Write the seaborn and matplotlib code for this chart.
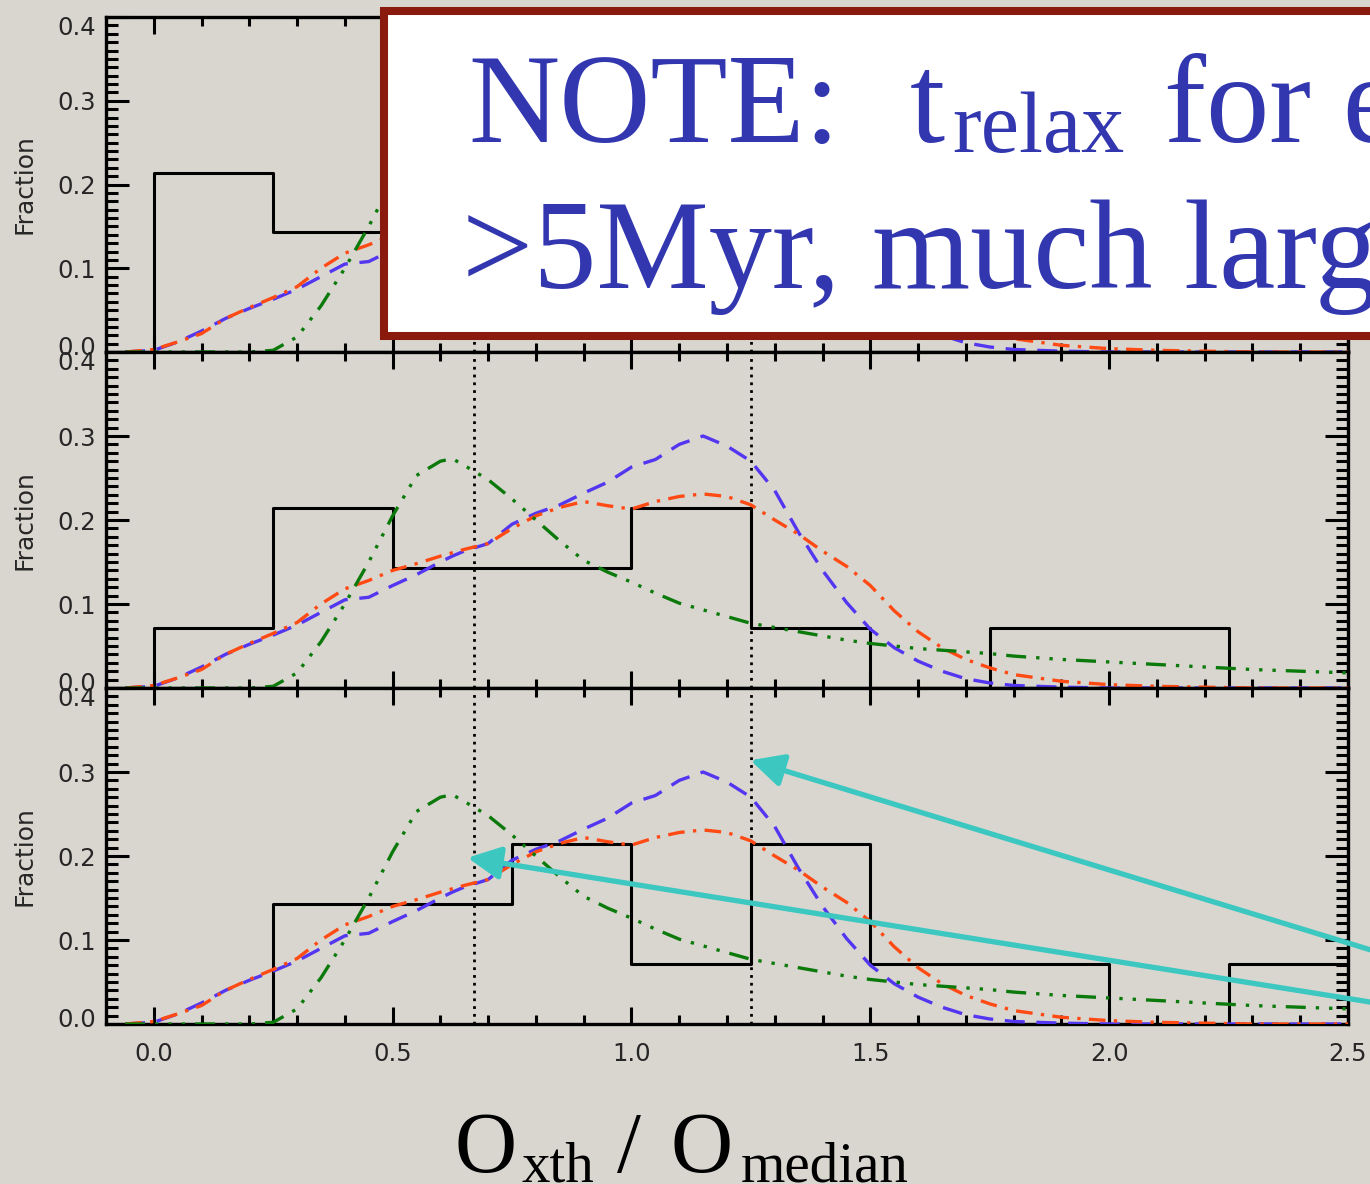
import matplotlib
matplotlib.use("Agg")
import matplotlib.pyplot as plt
import matplotlib.transforms as mtransforms
from matplotlib.patches import Rectangle
from matplotlib.ticker import MultipleLocator
import seaborn as sns

# ---------------- data ----------------
bin_edges = [0.0, 0.25, 0.5, 0.75, 1.0, 1.25, 1.5, 1.75, 2.0, 2.25, 2.5]
counts_top = [3, 2, 2, 1, 1, 1, 1, 1, 1, 1]
counts_mid = [1, 3, 2, 2, 3, 1, 0, 1, 1, 0]
counts_bot = [0, 2, 2, 3, 1, 3, 1, 1, 0, 1]
n_clusters = 14

model_x = [-0.06, 0.0, 0.05, 0.1, 0.15, 0.2, 0.25, 0.3, 0.35, 0.4, 0.45, 0.5,
           0.55, 0.6, 0.625, 0.65, 0.7, 0.75, 0.8, 0.85, 0.9, 0.95, 1.0, 1.05,
           1.1, 1.15, 1.2, 1.25, 1.3, 1.35, 1.4, 1.45, 1.5, 1.55, 1.6, 1.65,
           1.7, 1.75, 1.8, 1.9, 2.0, 2.1, 2.2, 2.3, 2.4, 2.5]
model_dashed = [0.0, 0.002, 0.012, 0.025, 0.040, 0.052, 0.063, 0.075, 0.090, 0.105,
                0.108, 0.122, 0.135, 0.150, 0.157, 0.163, 0.172, 0.195, 0.208, 0.218,
                0.232, 0.245, 0.263, 0.272, 0.290, 0.300, 0.288, 0.270, 0.235, 0.185,
                0.140, 0.102, 0.070, 0.048, 0.032, 0.020, 0.011, 0.006, 0.003, 0.001,
                0.0, 0.0, 0.0, 0.0, 0.0, 0.0]
model_dashdot = [0.0, 0.003, 0.012, 0.022, 0.040, 0.053, 0.065, 0.078, 0.100, 0.118,
                 0.128, 0.140, 0.148, 0.157, 0.161, 0.165, 0.172, 0.190, 0.205, 0.215,
                 0.222, 0.217, 0.213, 0.222, 0.228, 0.231, 0.228, 0.218, 0.200, 0.183,
                 0.163, 0.145, 0.122, 0.092, 0.067, 0.048, 0.034, 0.024, 0.016, 0.008,
                 0.004, 0.002, 0.001, 0.0, 0.0, 0.0]
model_dash3dot = [0.0, 0.0, 0.0, 0.0, 0.0, 0.0, 0.002, 0.018, 0.055, 0.100,
                  0.150, 0.205, 0.253, 0.270, 0.273, 0.265, 0.248, 0.225, 0.200, 0.175,
                  0.152, 0.138, 0.126, 0.113, 0.101, 0.093, 0.085, 0.077, 0.072, 0.067,
                  0.062, 0.057, 0.053, 0.050, 0.047, 0.045, 0.043, 0.041, 0.038, 0.034,
                  0.031, 0.028, 0.025, 0.022, 0.020, 0.018]

ref_lines = [0.67, 1.25]

# ---------------- style ----------------
BG = "#D9D6D0"
BLUE = "#5236F0"
RED = "#FF4A14"
GREEN = "#0B7A0B"
CYAN = "#3CC8C0"
NOTE_BLUE = "#3237B0"
NOTE_RED = "#8B1A0E"

sns.set_style("ticks")
plt.rcParams["font.family"] = ["DejaVu Sans"]

W, H = 1370, 1184
fig = plt.figure(figsize=(W / 100, H / 100), dpi=100, facecolor=BG)

left, right = 106 / W, 1348 / W
panel_px = [(17, 352), (352, 688), (688, 1024)]
axes = []
for top_px, bot_px in panel_px:
    ax = fig.add_axes([left, 1 - bot_px / H, right - left, (bot_px - top_px) / H])
    axes.append(ax)


def step_points(counts):
    frac = [c / n_clusters for c in counts]
    xs = [bin_edges[0]] + bin_edges[:-1] + [bin_edges[-1], bin_edges[-1]]
    ys = [0.0] + frac + [frac[-1], 0.0]
    return xs, ys


for ax, counts, show_x in zip(axes, [counts_top, counts_mid, counts_bot], [False, False, True]):
    ax.set_facecolor(BG)
    for xv in ref_lines:
        ax.axvline(xv, color="black", lw=2.0, ls=(0, (1, 1.8)), zorder=1)

    xs, ys = step_points(counts)
    sns.lineplot(x=xs, y=ys, sort=False, estimator=None, drawstyle="steps-post",
                 color="black", lw=2.2, ax=ax, zorder=2)

    sns.lineplot(x=model_x, y=model_dashed, sort=False, estimator=None, color=BLUE,
                 lw=2.4, linestyle=(0, (6, 3.5)), ax=ax, zorder=3)
    sns.lineplot(x=model_x, y=model_dashdot, sort=False, estimator=None, color=RED,
                 lw=2.4, linestyle=(0, (5, 2.5, 1, 2.5)), ax=ax, zorder=3)
    sns.lineplot(x=model_x, y=model_dash3dot, sort=False, estimator=None, color=GREEN,
                 lw=2.4, linestyle=(0, (6, 3, 1, 3, 1, 3, 1, 3)), ax=ax, zorder=3)

    ax.set_xlim(-0.1, 2.5)
    ax.set_ylim(0, 0.4)
    ax.xaxis.set_major_locator(MultipleLocator(0.5))
    ax.xaxis.set_minor_locator(MultipleLocator(0.1))
    ax.set_yticks([0.0, 0.1, 0.2, 0.3, 0.4])
    ax.set_yticklabels(["0.0", "0.1", "0.2", "0.3", "0.4"])
    ax.yaxis.set_minor_locator(MultipleLocator(0.01))
    if show_x:
        ax.set_xticks([0.0, 0.5, 1.0, 1.5, 2.0, 2.5])
        ax.set_xticklabels(["0.0", "0.5", "1.0", "1.5", "2.0", "2.5"])

    ax.tick_params(which="both", direction="in", top=True, right=True,
                   width=2.2, color="black")
    ax.tick_params(axis="x", which="major", length=12)
    ax.tick_params(axis="x", which="minor", length=6.5)
    ax.tick_params(axis="y", which="major", length=16.5)
    ax.tick_params(axis="y", which="minor", length=8.5)
    ax.tick_params(axis="y", labelsize=17.5, pad=7)
    ax.tick_params(axis="x", labelsize=17.5, pad=13, labelbottom=show_x)
    for sp in ax.spines.values():
        sp.set_linewidth(2.4)
        sp.set_color("black")
        sp.set_zorder(2.5)

    ax.set_xlabel("")
    ax.set_ylabel("Fraction", fontsize=18)
    ax.yaxis.set_label_coords(-0.0556, 0.5)

    # end labels sit just inside the axis range
    yt = ax.yaxis.get_major_ticks()
    up = mtransforms.ScaledTranslation(0, 5 / 72, fig.dpi_scale_trans)
    down = mtransforms.ScaledTranslation(0, -6 / 72, fig.dpi_scale_trans)
    yt[0].label1.set_transform(yt[0].label1.get_transform() + up)
    yt[-1].label1.set_transform(yt[-1].label1.get_transform() + down)

# ---------------- arrows in the lower panel ----------------
arrow_kw = dict(arrowstyle="-|>,head_length=1.0,head_width=0.5", color=CYAN,
                lw=3.8, shrinkA=0, shrinkB=0, mutation_scale=20)
axes[2].annotate("", xy=(1.249, 0.314), xycoords="data",
                 xytext=(1420, H - 965), textcoords="figure pixels",
                 arrowprops=arrow_kw, annotation_clip=False, zorder=6)
axes[2].annotate("", xy=(0.657, 0.198), xycoords="data",
                 xytext=(1420, H - 1010), textcoords="figure pixels",
                 arrowprops=arrow_kw, annotation_clip=False, zorder=6)

# ---------------- note box ----------------
fig.add_artist(Rectangle((384 / W, 1 - 336 / H), 1.2, (336 - 11) / H,
                         transform=fig.transFigure, facecolor="white",
                         edgecolor=NOTE_RED, lw=5.8, zorder=5))

serif = ["Liberation Serif", "DejaVu Serif"]


def ftext(xp, base_py, s, size, color):
    fig.text(xp / W, 1 - base_py / H, s, fontsize=size, family=serif, color=color,
             ha="left", va="baseline", zorder=6)


ftext(468, 142, "NOTE:", 91, NOTE_BLUE)
ftext(910, 142, "t", 91, NOTE_BLUE)
ftext(952, 152, "relax", 62, NOTE_BLUE)
ftext(1164, 142, "for each", 91, NOTE_BLUE)
ftext(462, 288, ">5Myr, much larger", 91, NOTE_BLUE)

# ---------------- x-axis title ----------------
ftext(454, 1172, "O", 62, "black")
ftext(522, 1181, "xth", 41, "black")
ftext(617, 1172, "/", 62, "black")
ftext(671, 1172, "O", 62, "black")
ftext(741, 1181, "median", 41, "black")

fig.savefig("out.png", dpi=100, facecolor=fig.get_facecolor())
